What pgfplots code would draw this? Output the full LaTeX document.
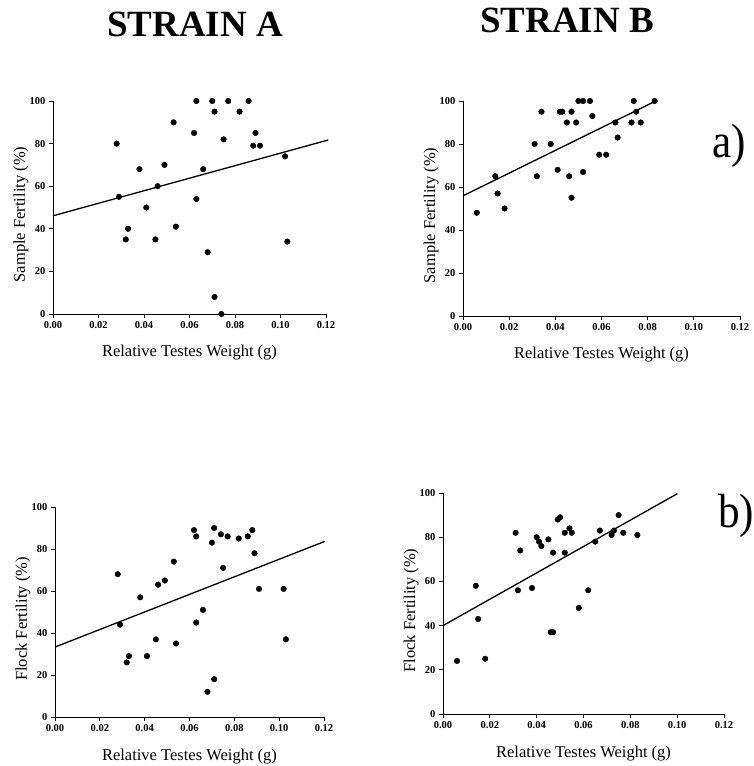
\documentclass[border=0pt]{standalone}
\usepackage{fontspec}
\setmainfont{Liberation Serif}
\usepackage{pgfplots}
\usepackage{pgfplotstable}
\pgfplotsset{compat=1.18}

% scatter data
\pgfplotstableread{
x y
0.028 80
0.029 55
0.032 35
0.033 40
0.038 68
0.041 50
0.045 35
0.046 60
0.049 70
0.053 90
0.054 41
0.062 85
0.063 100
0.063 54
0.066 68
0.068 29
0.070 100
0.071 95
0.071 8
0.074 0
0.075 82
0.077 100
0.082 95
0.086 100
0.088 79
0.089 85
0.091 79
0.102 74
0.103 34
}\sampleA
\pgfplotstableread{
x y
0.006 48
0.014 65
0.015 57
0.018 50
0.031 80
0.032 65
0.034 95
0.038 80
0.041 68
0.042 95
0.043 95
0.045 90
0.046 65
0.047 95
0.047 55
0.049 90
0.050 100
0.052 100
0.052 67
0.055 100
0.056 93
0.059 75
0.062 75
0.066 90
0.067 83
0.073 90
0.074 100
0.075 95
0.077 90
0.083 100
}\sampleB
\pgfplotstableread{
x y
0.028 68
0.029 44
0.032 26
0.033 29
0.038 57
0.041 29
0.045 37
0.046 63
0.049 65
0.053 74
0.054 35
0.062 89
0.063 86
0.063 45
0.066 51
0.068 12
0.070 83
0.071 90
0.071 18
0.074 87
0.075 71
0.077 86
0.082 85
0.086 86
0.088 89
0.089 78
0.091 61
0.102 61
0.103 37
}\flockA
\pgfplotstableread{
x y
0.006 24
0.014 58
0.015 43
0.018 25
0.031 82
0.032 56
0.033 74
0.038 57
0.040 80
0.041 78
0.042 76
0.045 79
0.046 37
0.047 37
0.047 73
0.049 88
0.050 89
0.052 82
0.052 73
0.054 84
0.055 82
0.058 48
0.062 56
0.065 78
0.067 83
0.072 81
0.073 83
0.075 90
0.077 82
0.083 81
}\flockB

\pgfplotsset{
  panel/.style={
    scale only axis, anchor=south west, clip=false,
    xmin=0, xmax=0.12, ymin=0, ymax=100,
    axis lines*=left, axis line style={-, line width=0.9pt},
    xtick={0,0.02,0.04,0.06,0.08,0.1,0.12},
    ytick={0,20,40,60,80,100},
    scaled x ticks=false,
    xticklabel style={/pgf/number format/.cd, fixed, fixed zerofill, precision=2},
    tick align=outside, major tick length=4pt,
    tick style={black, line width=0.9pt},
    /pgf/number format/assume math mode=true,
    tick label style={font=\fontsize{10.5}{11}\selectfont\bfseries},
    label style={font=\fontsize{16.5}{18}\selectfont},
    xlabel={Relative Testes Weight (g)},
    xlabel style={at={(axis description cs:0.5,0)}, anchor=base, yshift=-43pt},
    % label is turned by 90 degrees, so its yshift moves it left, its xshift moves it up
    ylabel style={at={(axis description cs:0,0.5)}, anchor=base, yshift=28pt, xshift=-7pt},
  },
  dots/.style={only marks, mark=*, mark size=2.8pt, black},
  fit/.style={black, line width=1.3pt, no marks},
}

\begin{document}
\begin{tikzpicture}
\path[use as bounding box] (0,0) rectangle (754pt,766pt);

\node[anchor=base, font=\fontsize{37}{40}\selectfont\bfseries] at (195pt,729pt) {STRAIN A};
\node[anchor=base, font=\fontsize{37}{40}\selectfont\bfseries] at (567pt,733pt) {STRAIN B};
\node[anchor=base, font=\fontsize{48}{50}\selectfont, xscale=0.9, inner sep=0pt] at (729pt,608pt) {a)};
\node[anchor=base, font=\fontsize{48}{50}\selectfont, xscale=0.9, inner sep=0pt] at (736pt,238pt) {b)};

\begin{axis}[panel, at={(53pt,452pt)}, width=273pt, height=213pt,
  ylabel={Sample Fertility (\%)}]
\addplot[dots] table {\sampleA};
\addplot[fit] coordinates {(0,46.1) (0.121,81.7)};
\end{axis}

\begin{axis}[panel, at={(463pt,450pt)}, width=277pt, height=215pt,
  ylabel={Sample Fertility (\%)}]
\addplot[dots] table {\sampleB};
\addplot[fit] coordinates {(0,55.9) (0.0835,100)};
\end{axis}

\begin{axis}[panel, at={(55pt,49pt)}, width=269pt, height=210pt,
  ylabel={Flock Fertility (\%)}]
\addplot[dots] table {\flockA};
\addplot[fit] coordinates {(0,33.3) (0.1203,83.6)};
\end{axis}

\begin{axis}[panel, at={(443pt,52pt)}, width=281pt, height=221pt,
  ylabel={Flock Fertility (\%)}]
\addplot[dots] table {\flockB};
\addplot[fit] coordinates {(0,40) (0.1001,99.7)};
\end{axis}
\end{tikzpicture}
\end{document}
